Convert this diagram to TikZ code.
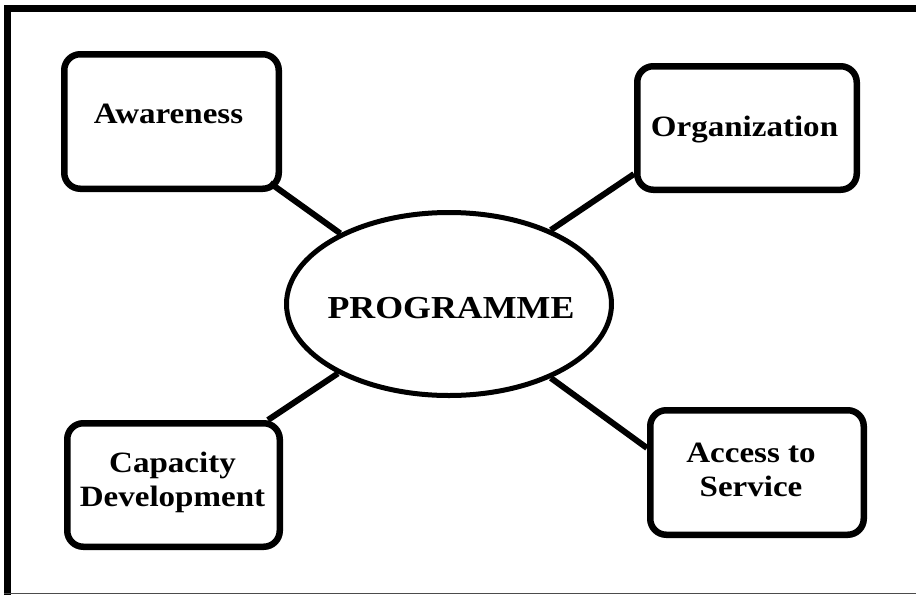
\documentclass[tikz,border=0pt]{standalone}
\usepackage{fontspec}
\setmainfont{Liberation Serif}[FakeStretch=1.12]
\usetikzlibrary{shapes.geometric}
\pgfdeclarelayer{background}
\pgfsetlayers{background,main}
\tikzset{
  box/.style={draw=black, line width=6.5pt, fill=white, rounded corners=16pt, inner sep=0pt, rectangle},
  hub/.style={draw=black, line width=5pt, fill=white, ellipse, inner sep=0pt},
  lbl/.style={font=\bfseries\fontsize{29.5}{34}\selectfont, inner sep=0pt, align=center, text=black},
  hublbl/.style={font=\bfseries\fontsize{32}{38}\selectfont, inner sep=0pt, text=black},
  link/.style={draw=black, line width=6pt},
  frame/.style={draw=black, line width=7pt}
}
\begin{document}
\begin{tikzpicture}[x=1pt, y=-1pt]
\useasboundingbox (0,0) rectangle (916,595);
% outer frame
\draw[frame] (7.5,595) -- (7.5,8.5) -- (916,8.5);
\draw[draw=black!70, line width=1.5pt] (4,593.5) -- (916,593.5);
% nodes
\node[box, minimum width=214.5pt, minimum height=134.5pt] (aw) at (171.5,121.5) {};
\node[box, minimum width=219.5pt, minimum height=123.5pt] (org) at (747,128) {};
\node[box, minimum width=212.5pt, minimum height=123.5pt] (cap) at (173.5,485) {};
\node[box, minimum width=213.5pt, minimum height=124.5pt] (acc) at (757,472.5) {};
\node[hub, minimum width=325pt, minimum height=183pt] (prog) at (449,304) {};
% labels
\node[lbl, anchor=base] (awt) at (168.5,123) {Awareness};
\node[lbl, anchor=base] (orgt) at (744.5,136) {Organization};
\node[lbl] (capt) at (172.5,482) {Capacity\\Development};
\node[lbl] (acct) at (751,470) {Access to\\Service};
\node[hublbl, anchor=base] (progt) at (451,318) {PROGRAMME};
% connectors
\draw[link] ([xshift=-12pt,yshift=9pt]aw.south east) -- (prog.147.7);
\begin{pgfonlayer}{background}
\draw[link] ([yshift=19pt]org.south west) -- (prog.36.8);
\draw[link] ([xshift=-15pt]cap.north east) -- (prog.212.6);
\draw[link] ([yshift=-41pt]acc.north west) -- (prog.324.4);
\end{pgfonlayer}
\end{tikzpicture}
\end{document}
